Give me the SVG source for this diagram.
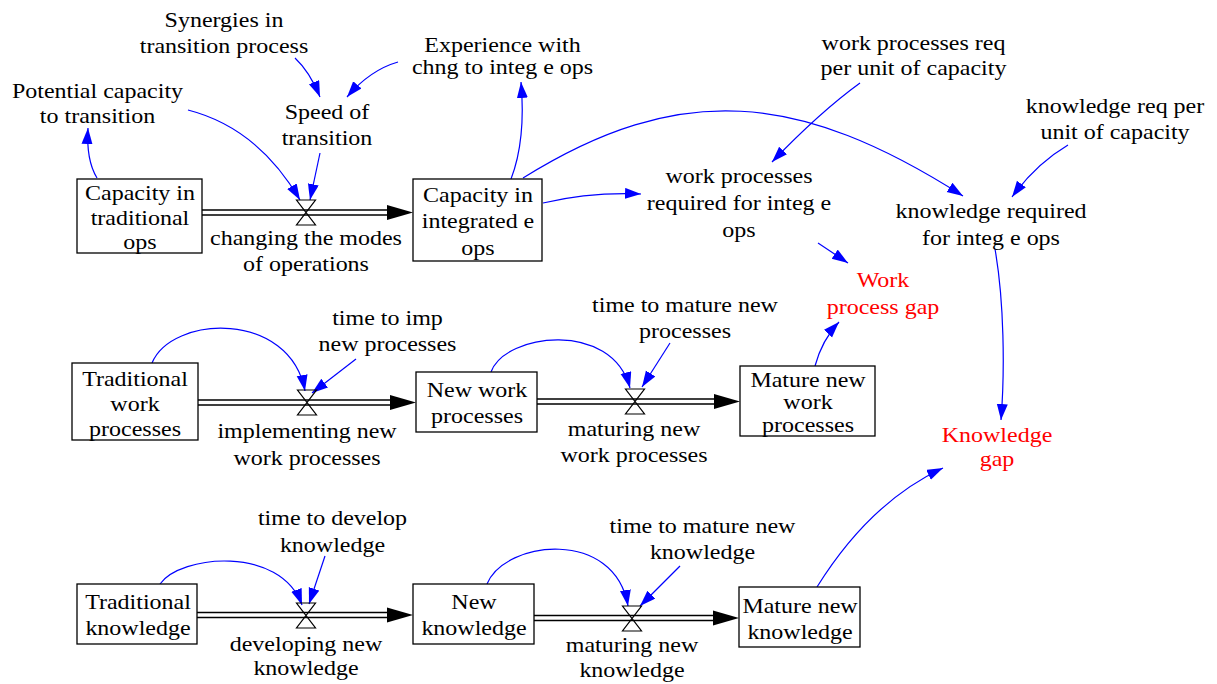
<svg xmlns="http://www.w3.org/2000/svg" width="1217" height="684" viewBox="0 0 1217 684">
<defs>
<style>
text{font-family:"Liberation Serif","Times New Roman",serif;font-size:20px;fill:#000;text-anchor:middle}
text.red{fill:#ff0000}
.box{fill:#fff;stroke:#000;stroke-width:1.3}
.pipe{fill:none;stroke:#000;stroke-width:1.3}
.head{fill:#000;stroke:none}
.valve{fill:none;stroke:#000;stroke-width:1.2;stroke-linejoin:miter}
.link{fill:none;stroke:#0000ff;stroke-width:1.2;marker-end:url(#ah)}
</style>
<marker id="ah" markerUnits="userSpaceOnUse" markerWidth="17" markerHeight="12" refX="16" refY="5.5" orient="auto">
<path d="M0,0 L16,5.5 L0,11 Z" fill="#0000ff"/>
</marker>
</defs>
<rect width="1217" height="684" fill="#fff"/>

<g id="connectors">
<!-- flow pipes -->
<path class="pipe" d="M202,210 H388 M202,215 H388"/>
<polygon class="head" points="387,205 413,212.5 387,220"/>
<path class="pipe" d="M198,400 H391 M198,405 H391"/>
<polygon class="head" points="390,395 416,402.5 390,410"/>
<path class="pipe" d="M537,399 H715 M537,404 H715"/>
<polygon class="head" points="714,394 740,401.5 714,409"/>
<path class="pipe" d="M197,612.5 H388 M197,617.5 H388"/>
<polygon class="head" points="387,607.5 413,615 387,622.5"/>
<path class="pipe" d="M534,615.5 H714 M534,620.5 H714"/>
<polygon class="head" points="713,610.5 739,618 713,625.5"/>
<!-- information links -->
<path class="link" d="M97,178 Q86,160 88,128"/>
<path class="link" d="M188,110 Q258,128 300,200"/>
<path class="link" d="M295,58 Q310,72 320,97"/>
<path class="link" d="M398,62 Q370,70 347,97"/>
<path class="link" d="M320,153 L310,200"/>
<path class="link" d="M511,179 Q526,140 521,82"/>
<path class="link" d="M543,203 Q590,192 641,194"/>
<path class="link" d="M523,178 C680,80 800,92 963,196"/>
<path class="link" d="M860,83 Q820,112 772,162"/>
<path class="link" d="M1068,145 Q1036,164 1012,197"/>
<path class="link" d="M818,243 L848,263"/>
<path class="link" d="M995,249 C1004,300 1005,370 1001,420"/>
<path class="link" d="M817,587 Q870,502 943,468"/>
<path class="link" d="M815,366 Q822,340 839,322"/>
<path class="link" d="M152,363 C172,315 290,310 305,391"/>
<path class="link" d="M356,359 L312,393"/>
<path class="link" d="M491,372 C505,333 612,320 630,388"/>
<path class="link" d="M670,343 L642,387"/>
<path class="link" d="M160,584 C180,555 280,545 302,605"/>
<path class="link" d="M325,556 L309,604"/>
<path class="link" d="M487,584 C505,540 615,528 628,606"/>
<path class="link" d="M680,566 L640,606"/>
</g>

<!-- stocks -->
<g id="capacity-traditional">
<rect class="box" x="77" y="179" width="125" height="74"/>
<text transform="matrix(1.2 0 0 1 140 0)"><tspan x="0" y="200">Capacity in</tspan><tspan x="0" y="225">traditional</tspan><tspan x="0" y="249">ops</tspan></text>
</g>
<g id="capacity-integrated">
<rect class="box" x="413" y="179" width="129" height="82"/>
<text transform="matrix(1.2 0 0 1 478 0)"><tspan x="0" y="202">Capacity in</tspan><tspan x="0" y="228">integrated e</tspan><tspan x="0" y="255">ops</tspan></text>
</g>
<g id="traditional-work-processes">
<rect class="box" x="72" y="363" width="126" height="77"/>
<text transform="matrix(1.2 0 0 1 135 0)"><tspan x="0" y="386">Traditional</tspan><tspan x="0" y="411">work</tspan><tspan x="0" y="436">processes</tspan></text>
</g>
<g id="new-work-processes">
<rect class="box" x="416" y="372" width="121" height="60"/>
<text transform="matrix(1.2 0 0 1 477 0)"><tspan x="0" y="397">New work</tspan><tspan x="0" y="423">processes</tspan></text>
</g>
<g id="mature-new-work-processes">
<rect class="box" x="740" y="366" width="135" height="70"/>
<text transform="matrix(1.2 0 0 1 808 0)"><tspan x="0" y="387">Mature new</tspan><tspan x="0" y="409">work</tspan><tspan x="0" y="432">processes</tspan></text>
</g>
<g id="traditional-knowledge">
<rect class="box" x="77" y="584" width="120" height="60"/>
<text transform="matrix(1.2 0 0 1 138 0)"><tspan x="0" y="609">Traditional</tspan><tspan x="0" y="635">knowledge</tspan></text>
</g>
<g id="new-knowledge">
<rect class="box" x="413" y="584" width="121" height="60"/>
<text transform="matrix(1.2 0 0 1 474 0)"><tspan x="0" y="609">New</tspan><tspan x="0" y="635">knowledge</tspan></text>
</g>
<g id="mature-new-knowledge">
<rect class="box" x="739" y="587" width="121" height="60"/>
<text transform="matrix(1.2 0 0 1 800 0)"><tspan x="0" y="613">Mature new</tspan><tspan x="0" y="639">knowledge</tspan></text>
</g>

<!-- flows (valves) -->
<g id="changing-modes">
<path class="valve" d="M296.5,200 L315.5,200 L296.5,225 L315.5,225 Z"/>
<text transform="matrix(1.2 0 0 1 306 0)"><tspan x="0" y="245">changing the modes</tspan><tspan x="0" y="271">of operations</tspan></text>
</g>
<g id="implementing">
<path class="valve" d="M297.5,390 L316.5,390 L297.5,415 L316.5,415 Z"/>
<text transform="matrix(1.2 0 0 1 307 0)"><tspan x="0" y="438">implementing new</tspan><tspan x="0" y="465">work processes</tspan></text>
</g>
<g id="maturing-work-processes">
<path class="valve" d="M625.5,389 L644.5,389 L625.5,414 L644.5,414 Z"/>
<text transform="matrix(1.2 0 0 1 634 0)"><tspan x="0" y="436">maturing new</tspan><tspan x="0" y="462">work processes</tspan></text>
</g>
<g id="developing-knowledge">
<path class="valve" d="M296.5,603 L315.5,603 L296.5,628 L315.5,628 Z"/>
<text transform="matrix(1.2 0 0 1 306 0)"><tspan x="0" y="651">developing new</tspan><tspan x="0" y="675">knowledge</tspan></text>
</g>
<g id="maturing-knowledge">
<path class="valve" d="M622.5,606 L641.5,606 L622.5,631 L641.5,631 Z"/>
<text transform="matrix(1.2 0 0 1 632 0)"><tspan x="0" y="652">maturing new</tspan><tspan x="0" y="677">knowledge</tspan></text>
</g>

<!-- auxiliaries -->
<g id="synergies"><text transform="matrix(1.2 0 0 1 224 0)"><tspan x="0" y="27">Synergies in</tspan><tspan x="0" y="53">transition process</tspan></text></g>
<g id="potential-capacity"><text transform="matrix(1.2 0 0 1 97.5 0)"><tspan x="0" y="98">Potential capacity</tspan><tspan x="0" y="123">to transition</tspan></text></g>
<g id="speed-of-transition"><text transform="matrix(1.2 0 0 1 327 0)"><tspan x="0" y="119">Speed of</tspan><tspan x="0" y="145">transition</tspan></text></g>
<g id="experience"><text transform="matrix(1.2 0 0 1 502.5 0)"><tspan x="0" y="52">Experience with</tspan><tspan x="0" y="74">chng to integ e ops</tspan></text></g>
<g id="work-processes-required"><text transform="matrix(1.2 0 0 1 739 0)"><tspan x="0" y="183">work processes</tspan><tspan x="0" y="210">required for integ e</tspan><tspan x="0" y="237">ops</tspan></text></g>
<g id="wp-req-per-unit"><text transform="matrix(1.2 0 0 1 913.5 0)"><tspan x="0" y="50">work processes req</tspan><tspan x="0" y="75">per unit of capacity</tspan></text></g>
<g id="knowledge-req-per-unit"><text transform="matrix(1.2 0 0 1 1115 0)"><tspan x="0" y="113">knowledge req per</tspan><tspan x="0" y="139">unit of capacity</tspan></text></g>
<g id="knowledge-required"><text transform="matrix(1.2 0 0 1 991 0)"><tspan x="0" y="218">knowledge required</tspan><tspan x="0" y="245">for integ e ops</tspan></text></g>
<g id="work-process-gap"><text class="red" transform="matrix(1.2 0 0 1 883 0)"><tspan x="0" y="287">Work</tspan><tspan x="0" y="314">process gap</tspan></text></g>
<g id="knowledge-gap"><text class="red" transform="matrix(1.2 0 0 1 997 0)"><tspan x="0" y="442">Knowledge</tspan><tspan x="0" y="466">gap</tspan></text></g>
<g id="time-to-imp"><text transform="matrix(1.2 0 0 1 387.5 0)"><tspan x="0" y="325">time to imp</tspan><tspan x="0" y="351">new processes</tspan></text></g>
<g id="time-to-mature-processes"><text transform="matrix(1.2 0 0 1 685 0)"><tspan x="0" y="312">time to mature new</tspan><tspan x="0" y="338">processes</tspan></text></g>
<g id="time-to-develop"><text transform="matrix(1.2 0 0 1 332.5 0)"><tspan x="0" y="525">time to develop</tspan><tspan x="0" y="552">knowledge</tspan></text></g>
<g id="time-to-mature-knowledge"><text transform="matrix(1.2 0 0 1 702.5 0)"><tspan x="0" y="533">time to mature new</tspan><tspan x="0" y="559">knowledge</tspan></text></g>
</svg>
